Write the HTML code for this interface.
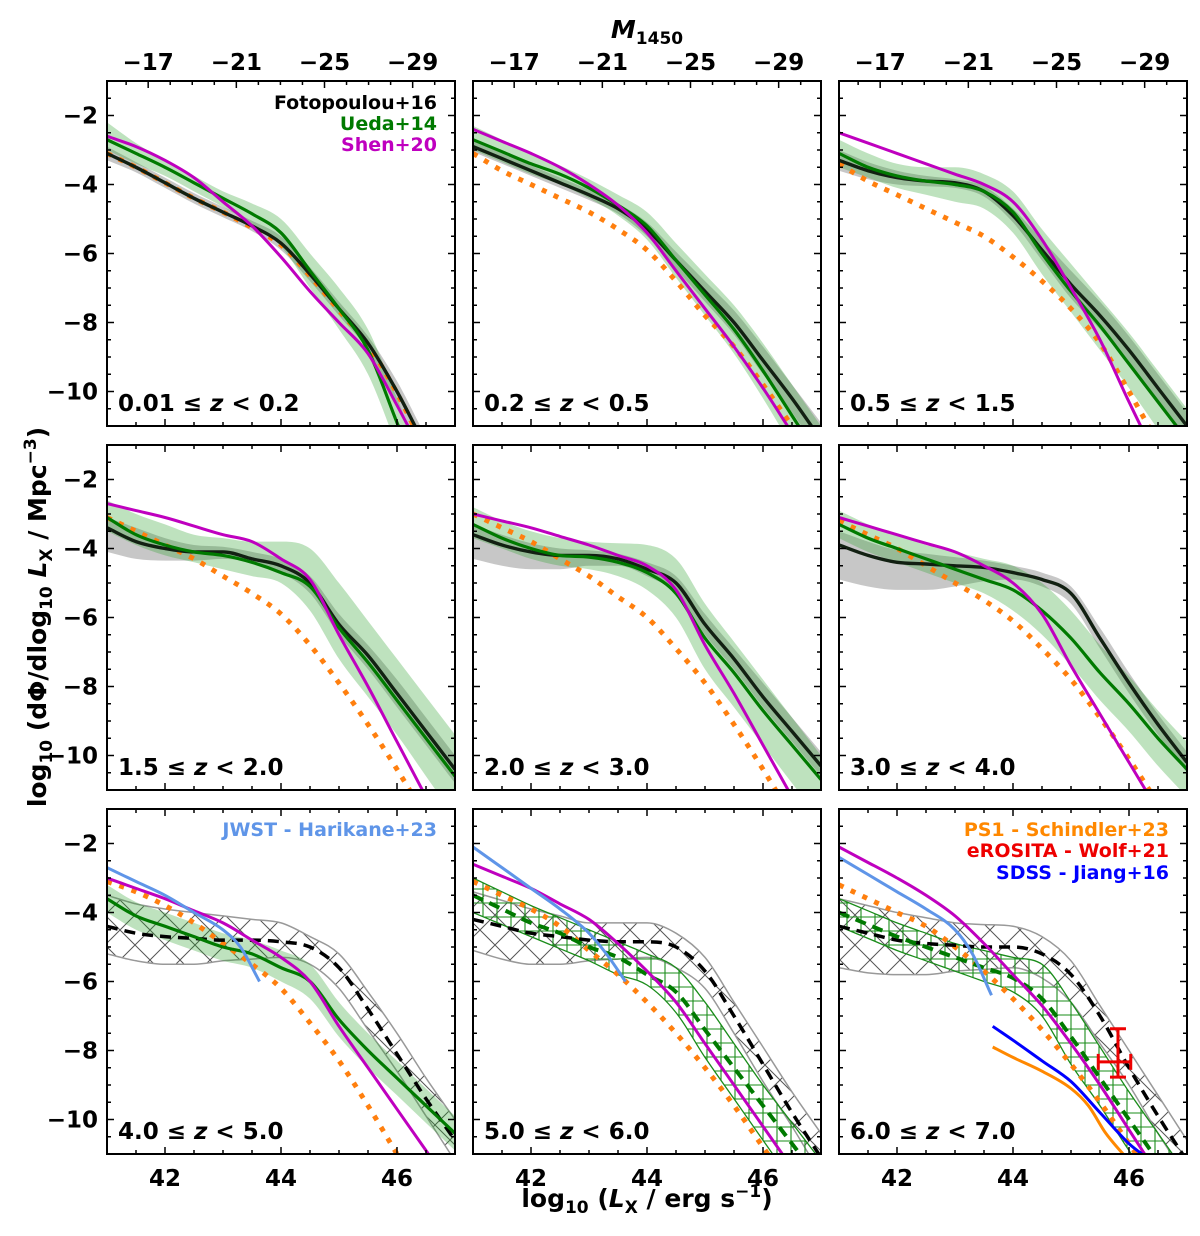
<!DOCTYPE html>
<html><head><meta charset="utf-8"><style>
html,body{margin:0;padding:0;background:#fff;}
svg{display:block;font-family:"DejaVu Sans","Liberation Sans",sans-serif;font-weight:bold;}
</style></head><body>
<svg id="fig" width="1200" height="1236" viewBox="0 0 1200 1236" xmlns="http://www.w3.org/2000/svg">
<defs>
<pattern id="hatchX" width="30" height="30" patternUnits="userSpaceOnUse">
<path d="M0,0 L30,30 M30,0 L0,30" stroke="#555" stroke-width="1"/>
</pattern>
<pattern id="hatchPlus" width="14" height="14" patternUnits="userSpaceOnUse">
<path d="M7,0 L7,14 M0,7 L14,7" stroke="#1a8c1a" stroke-width="1.1"/>
</pattern>
</defs>
<text x="647" y="38" font-size="25" text-anchor="middle"><tspan font-style="italic">M</tspan><tspan font-size="17" dy="6">1450</tspan></text>
<text x="647" y="1207" font-size="25" text-anchor="middle">log<tspan font-size="17" dy="6">10</tspan><tspan dy="-6"> (</tspan><tspan font-style="italic">L</tspan><tspan font-size="17" dy="6">X</tspan><tspan dy="-6"> / erg s</tspan><tspan font-size="17" dy="-10">−1</tspan><tspan dy="10">)</tspan></text>
<text transform="translate(46,617) rotate(-90)" font-size="25" text-anchor="middle">log<tspan font-size="17" dy="6">10</tspan><tspan dy="-6"> (dΦ/dlog</tspan><tspan font-size="17" dy="6">10</tspan><tspan dy="-6"> </tspan><tspan font-style="italic">L</tspan><tspan font-size="17" dy="6">X</tspan><tspan dy="-6"> / Mpc</tspan><tspan font-size="17" dy="-10">−3</tspan><tspan dy="10">)</tspan></text>
</svg>
<script>
// ---- data ----
const xs = [41,41.5,42,42.5,43,43.5,44,44.5,45,45.5,46,46.5,47];
const zLabels = ["0.01","0.2","0.2","0.5","0.5","1.5","1.5","2.0","2.0","3.0","3.0","4.0","4.0","5.0","5.0","6.0","6.0","7.0"];
const yTicks = [-10,-8,-6,-4,-2];
const xTicks = [42,44,46];
const magTicks = [-17,-21,-25,-29];

const p1_black=[-3.1,-3.5,-3.95,-4.4,-4.8,-5.2,-5.7,-6.6,-7.6,-8.6,-10.0,-11.6,-13];
const p1_green=[-2.7,-3.1,-3.5,-3.95,-4.4,-4.85,-5.4,-6.5,-7.6,-8.8,-10.9,-13,-15];
const p1_gHi=[-2.2,-2.8,-3.3,-3.75,-4.2,-4.55,-5.0,-6.0,-7.0,-8.2,-10.2,-12.2,-14];
const p1_gLo=[-3.0,-3.4,-3.75,-4.2,-4.65,-5.15,-5.8,-7.0,-8.2,-9.5,-11.6,-13.8,-16];
const p1_kHi=[-2.9,-3.35,-3.8,-4.25,-4.65,-5.05,-5.5,-6.4,-7.4,-8.4,-9.7,-11.3,-12.7];
const p1_kLo=[-3.3,-3.65,-4.1,-4.55,-4.95,-5.35,-5.9,-6.8,-7.8,-8.8,-10.3,-11.9,-13.3];
const p1_mag=[-2.6,-2.9,-3.3,-3.8,-4.5,-5.2,-6.1,-7.1,-8.0,-8.9,-10.4,-12,-13.6];
const p1_orange=[-3.1,-3.5,-3.95,-4.4,-4.8,-5.25,-5.75,-6.65,-7.65,-8.65,-10.05,-11.7,-13.1];

const p2_black=[-2.9,-3.25,-3.6,-3.95,-4.3,-4.7,-5.3,-6.2,-7.1,-8.0,-9.1,-10.2,-11.4];
const p2_green=[-2.7,-3.05,-3.4,-3.7,-4.1,-4.6,-5.2,-6.2,-7.2,-8.2,-9.4,-10.7,-12];
const p2_gHi=[-2.3,-2.7,-3.1,-3.45,-3.85,-4.3,-4.8,-5.7,-6.6,-7.5,-8.6,-9.8,-11];
const p2_gLo=[-3.0,-3.35,-3.7,-4.0,-4.4,-4.9,-5.6,-6.7,-7.8,-8.9,-10.2,-11.6,-13];
const p2_kHi=[-2.75,-3.1,-3.45,-3.8,-4.15,-4.55,-5.1,-5.95,-6.8,-7.65,-8.7,-9.8,-10.9];
const p2_kLo=[-3.05,-3.4,-3.75,-4.1,-4.45,-4.85,-5.5,-6.45,-7.4,-8.35,-9.5,-10.6,-11.9];
const p2_mag=[-2.4,-2.75,-3.1,-3.5,-4.0,-4.6,-5.4,-6.5,-7.6,-8.7,-9.9,-11.2,-12.5];
const p2_orange=[-3.1,-3.6,-4.0,-4.4,-4.8,-5.3,-5.9,-6.8,-7.8,-8.7,-9.8,-11.0,-12.2];

const p3_black=[-3.3,-3.6,-3.8,-3.9,-3.95,-4.2,-4.9,-5.9,-6.9,-7.8,-8.8,-9.9,-11.0];
const p3_green=[-3.1,-3.5,-3.75,-3.9,-4.0,-4.2,-4.8,-6.0,-7.1,-8.1,-9.2,-10.3,-11.4];
const p3_gHi=[-2.7,-3.1,-3.4,-3.5,-3.5,-3.7,-4.2,-5.3,-6.3,-7.3,-8.3,-9.4,-10.5];
const p3_gLo=[-3.5,-3.8,-4.1,-4.3,-4.5,-4.7,-5.4,-6.6,-7.7,-8.8,-9.9,-11.1,-12.3];
const p3_kHi=[-3.0,-3.35,-3.6,-3.75,-3.85,-4.05,-4.7,-5.6,-6.5,-7.4,-8.4,-9.5,-10.6];
const p3_kLo=[-3.6,-3.85,-4.0,-4.05,-4.1,-4.35,-5.1,-6.2,-7.3,-8.2,-9.2,-10.3,-11.4];
const p3_mag=[-2.5,-2.8,-3.1,-3.4,-3.7,-4.0,-4.5,-5.6,-7.0,-8.5,-10.3,-12,-13.5];
const p3_orange=[-3.4,-3.9,-4.3,-4.7,-5.1,-5.5,-6.1,-6.8,-7.6,-8.6,-10.0,-11.5,-13];

const p4_black=[-3.4,-3.8,-4.0,-4.1,-4.1,-4.3,-4.5,-5.0,-6.2,-7.1,-8.2,-9.3,-10.4];
const p4_green=[-3.1,-3.6,-3.9,-4.1,-4.2,-4.4,-4.7,-5.1,-6.3,-7.3,-8.4,-9.5,-10.6];
const p4_gHi=[-2.6,-3.0,-3.3,-3.6,-3.7,-3.8,-3.8,-4.0,-5.0,-6.1,-7.2,-8.3,-9.4];
const p4_gLo=[-3.5,-3.9,-4.2,-4.4,-4.6,-4.8,-5.0,-5.8,-7.2,-8.3,-9.4,-10.6,-11.8];
const p4_kHi=[-3.1,-3.4,-3.7,-3.9,-3.95,-4.1,-4.3,-4.8,-5.9,-6.8,-7.8,-8.9,-10.0];
const p4_kLo=[-4.1,-4.3,-4.35,-4.35,-4.3,-4.4,-4.7,-5.3,-6.5,-7.5,-8.6,-9.7,-10.8];
const p4_mag=[-2.7,-2.9,-3.1,-3.35,-3.6,-3.8,-4.3,-4.9,-6.5,-8.0,-9.6,-11.2,-12.8];
const p4_orange=[-3.1,-3.5,-3.9,-4.3,-4.8,-5.3,-5.9,-6.8,-7.9,-9.1,-10.4,-11.8,-13.2];

const p5_black=[-3.6,-3.9,-4.1,-4.2,-4.2,-4.3,-4.6,-5.0,-6.2,-7.2,-8.3,-9.3,-10.3];
const p5_green=[-3.3,-3.7,-4.0,-4.2,-4.25,-4.4,-4.7,-5.3,-6.6,-7.6,-8.7,-9.7,-10.7];
const p5_gHi=[-2.8,-3.2,-3.5,-3.7,-3.8,-3.85,-3.9,-4.3,-5.6,-6.7,-7.8,-8.9,-10.0];
const p5_gLo=[-3.7,-4.0,-4.3,-4.5,-4.6,-4.8,-5.2,-6.0,-7.5,-8.6,-9.7,-10.8,-11.9];
const p5_kHi=[-3.3,-3.6,-3.85,-4.0,-4.05,-4.15,-4.4,-4.8,-5.9,-6.9,-7.9,-8.9,-9.9];
const p5_kLo=[-4.3,-4.5,-4.6,-4.6,-4.5,-4.5,-4.8,-5.3,-6.5,-7.5,-8.6,-9.6,-10.6];
const p5_mag=[-3.0,-3.2,-3.4,-3.65,-3.9,-4.2,-4.5,-5.2,-6.8,-8.2,-9.7,-11.2,-12.7];
const p5_orange=[-3.0,-3.4,-3.8,-4.3,-4.8,-5.4,-6.0,-6.9,-7.9,-9.1,-10.4,-11.8,-13.2];

const p6_black=[-3.9,-4.2,-4.4,-4.45,-4.5,-4.55,-4.7,-4.9,-5.3,-6.6,-7.9,-9.1,-10.2];
const p6_green=[-3.3,-3.7,-4.0,-4.3,-4.6,-4.9,-5.2,-5.8,-6.6,-7.6,-8.5,-9.5,-10.4];
const p6_gHi=[-2.9,-3.3,-3.6,-3.9,-4.1,-4.3,-4.5,-5.0,-5.8,-6.8,-7.7,-8.7,-9.6];
const p6_gLo=[-3.7,-4.1,-4.4,-4.7,-5.0,-5.3,-5.8,-6.5,-7.4,-8.4,-9.3,-10.3,-11.2];
const p6_kHi=[-3.5,-3.8,-4.05,-4.15,-4.25,-4.35,-4.5,-4.7,-5.1,-6.3,-7.6,-8.8,-9.9];
const p6_kLo=[-4.9,-5.1,-5.2,-5.2,-5.1,-4.95,-4.9,-5.1,-5.6,-6.9,-8.2,-9.4,-10.5];
const p6_mag=[-3.1,-3.35,-3.6,-3.85,-4.1,-4.5,-5.0,-5.9,-7.4,-8.8,-10.2,-11.6,-13];
const p6_orange=[-3.2,-3.6,-4.0,-4.5,-5.0,-5.5,-6.1,-6.9,-7.8,-8.9,-10.1,-11.4,-12.8];

const p7_black=[-4.4,-4.6,-4.7,-4.75,-4.8,-4.8,-4.85,-5.0,-5.6,-6.8,-8.1,-9.4,-10.6];
const p7_kHi=[-3.5,-3.75,-3.9,-4.0,-4.1,-4.2,-4.3,-4.7,-5.2,-6.3,-7.5,-8.8,-10.0];
const p7_kLo=[-5.2,-5.4,-5.5,-5.5,-5.4,-5.35,-5.3,-5.5,-6.2,-7.4,-8.6,-9.9,-11.2];
const p7_green=[-3.6,-4.1,-4.4,-4.7,-5.0,-5.2,-5.6,-6.0,-7.1,-8.0,-8.8,-9.6,-10.4];
const p7_gHi=[-3.2,-3.7,-4.0,-4.3,-4.6,-4.8,-5.1,-5.5,-6.6,-7.5,-8.3,-9.1,-9.9];
const p7_gLo=[-4.0,-4.5,-4.8,-5.1,-5.4,-5.6,-6.0,-6.5,-7.6,-8.5,-9.3,-10.1,-10.9];
const p7_mag=[-3.0,-3.3,-3.6,-3.95,-4.3,-4.8,-5.3,-6.0,-7.3,-8.5,-9.7,-10.9,-12.1];
const p7_orange=[-3.1,-3.4,-3.8,-4.3,-4.9,-5.5,-6.2,-7.2,-8.3,-9.6,-11.0,-12.4,-13.8];

const p8_black=[-4.2,-4.4,-4.6,-4.7,-4.8,-4.85,-4.85,-5.0,-5.7,-7.0,-8.4,-9.8,-11.1];
const p8_kHi=[-3.4,-3.65,-3.9,-4.1,-4.3,-4.3,-4.3,-4.6,-5.3,-6.6,-7.9,-9.2,-10.4];
const p8_kLo=[-5.1,-5.35,-5.5,-5.5,-5.4,-5.35,-5.3,-5.6,-6.2,-7.5,-8.9,-10.2,-11.6];
const p8_green=[-3.5,-3.9,-4.3,-4.6,-5.0,-5.3,-5.8,-6.3,-7.4,-8.5,-9.6,-10.7,-11.8];
const p8_gHi=[-3.0,-3.4,-3.8,-4.15,-4.5,-4.85,-5.2,-5.6,-6.6,-7.8,-9.0,-10.1,-11.2];
const p8_gLo=[-4.0,-4.35,-4.7,-5.05,-5.4,-5.8,-6.1,-6.9,-8.2,-9.4,-10.6,-11.8,-13];
const p8_mag=[-2.6,-2.95,-3.3,-3.75,-4.2,-4.9,-5.7,-6.6,-7.8,-9.0,-10.2,-11.4,-12.6];
const p8_orange=[-3.1,-3.5,-3.9,-4.4,-5.1,-5.8,-6.6,-7.5,-8.5,-9.6,-10.8,-12,-13.2];

const p9_black=[-4.4,-4.6,-4.8,-4.9,-4.95,-5.0,-5.0,-5.2,-5.8,-7.0,-8.5,-9.9,-11.2];
const p9_kHi=[-3.6,-3.8,-4.0,-4.15,-4.3,-4.35,-4.4,-4.7,-5.4,-6.7,-8.0,-9.3,-10.6];
const p9_kLo=[-5.6,-5.75,-5.8,-5.8,-5.7,-5.65,-5.6,-5.9,-6.6,-7.8,-9.0,-10.4,-11.7];
const p9_green=[-4.0,-4.35,-4.7,-5.0,-5.3,-5.6,-5.9,-6.5,-7.6,-8.8,-10.0,-11.2,-12.4];
const p9_gHi=[-3.6,-3.95,-4.3,-4.6,-4.9,-5.1,-5.3,-5.5,-6.6,-7.9,-9.2,-10.4,-11.6];
const p9_gLo=[-4.4,-4.75,-5.1,-5.4,-5.7,-6.0,-6.3,-7.0,-8.4,-9.6,-10.9,-12.1,-13.3];
const p9_mag=[-2.1,-2.55,-3.0,-3.5,-4.1,-4.9,-5.8,-6.7,-7.8,-9.0,-10.3,-11.6,-12.9];
const p9_orange=[-3.2,-3.6,-4.0,-4.4,-5.0,-5.7,-6.5,-7.4,-8.4,-9.5,-10.7,-11.9,-13.1];

const jwstX=[41,41.5,42,42.5,43,43.3,43.63];
const p7_jwst=[-2.7,-3.1,-3.5,-4.0,-4.5,-5.0,-6.0];
const p8_jwst=[-2.1,-2.7,-3.3,-3.9,-4.6,-5.2,-6.0];
const p9_jwst=[-2.4,-2.9,-3.4,-3.9,-4.5,-5.2,-6.4];
const sdssX=[43.65,44,44.5,45,45.5,46,46.3];
const sdssY=[-7.3,-7.7,-8.3,-8.9,-9.8,-10.7,-11.1];
const ps1X=[43.65,44,44.5,45,45.3,45.6,45.95];
const ps1Y=[-7.9,-8.2,-8.6,-9.1,-9.6,-10.4,-11.1];
const erositaPt=[45.81,-8.33];
const erositaXErr=[45.47,46.03];
const erositaYErr=[-7.37,-8.77];

const panels=[
 {k:p1_black,kHi:p1_kHi,kLo:p1_kLo,g:p1_green,gHi:p1_gHi,gLo:p1_gLo,m:p1_mag,o:p1_orange},
 {k:p2_black,kHi:p2_kHi,kLo:p2_kLo,g:p2_green,gHi:p2_gHi,gLo:p2_gLo,m:p2_mag,o:p2_orange},
 {k:p3_black,kHi:p3_kHi,kLo:p3_kLo,g:p3_green,gHi:p3_gHi,gLo:p3_gLo,m:p3_mag,o:p3_orange},
 {k:p4_black,kHi:p4_kHi,kLo:p4_kLo,g:p4_green,gHi:p4_gHi,gLo:p4_gLo,m:p4_mag,o:p4_orange},
 {k:p5_black,kHi:p5_kHi,kLo:p5_kLo,g:p5_green,gHi:p5_gHi,gLo:p5_gLo,m:p5_mag,o:p5_orange},
 {k:p6_black,kHi:p6_kHi,kLo:p6_kLo,g:p6_green,gHi:p6_gHi,gLo:p6_gLo,m:p6_mag,o:p6_orange},
 {k:p7_black,kHi:p7_kHi,kLo:p7_kLo,g:p7_green,gHi:p7_gHi,gLo:p7_gLo,m:p7_mag,o:p7_orange,j:p7_jwst,mode:1},
 {k:p8_black,kHi:p8_kHi,kLo:p8_kLo,g:p8_green,gHi:p8_gHi,gLo:p8_gLo,m:p8_mag,o:p8_orange,j:p8_jwst,mode:2},
 {k:p9_black,kHi:p9_kHi,kLo:p9_kLo,g:p9_green,gHi:p9_gHi,gLo:p9_gLo,m:p9_mag,o:p9_orange,j:p9_jwst,mode:2,extra:true}
];

// ---- layout ----
const NS="http://www.w3.org/2000/svg";
const svg=document.getElementById('fig');
const lefts=[107,473,839], tops=[81,445,809], W=348, H=345;
const XMIN=41,XMAX=47,YMIN=-11,YMAX=-1;
function mk(tag,attrs,parent){const e=document.createElementNS(NS,tag);for(const a in attrs)e.setAttribute(a,attrs[a]);(parent||svg).appendChild(e);return e;}
function magToL(M){return 41.71+(-17-M)*0.38;}

function pathD(px,py,cont){
  const n=px.length;const d=[],m=new Array(n);
  for(let i=0;i<n-1;i++)d.push((py[i+1]-py[i])/(px[i+1]-px[i]));
  m[0]=d[0];m[n-1]=d[n-2];
  for(let i=1;i<n-1;i++){m[i]=(d[i-1]*d[i]<=0)?0:(d[i-1]+d[i])/2;}
  for(let i=0;i<n-1;i++){
    if(d[i]===0){m[i]=0;m[i+1]=0;continue;}
    const a=m[i]/d[i],b=m[i+1]/d[i],s=a*a+b*b;
    if(s>9){const t=3/Math.sqrt(s);m[i]=t*a*d[i];m[i+1]=t*b*d[i];}
  }
  let s=(cont?"L":"M")+px[0].toFixed(1)+","+py[0].toFixed(1);
  for(let i=0;i<n-1;i++){
    const h=(px[i+1]-px[i])/3;
    s+=" C"+(px[i]+h).toFixed(1)+","+(py[i]+m[i]*h).toFixed(1)+" "+(px[i+1]-h).toFixed(1)+","+(py[i+1]-m[i+1]*h).toFixed(1)+" "+px[i+1].toFixed(1)+","+py[i+1].toFixed(1);
  }
  return s;
}
function pathRev(px,py){
  const fx=px.map(v=>-v).reverse(),fy=py.slice().reverse();
  const s=pathD(fx,fy,true);
  return s.replace(/(-?\d+\.?\d*),(-?\d+\.?\d*)/g,(a,x,y)=>(-parseFloat(x)).toFixed(1)+","+y);
}

panels.forEach((p,idx)=>{
  const r=Math.floor(idx/3),c=idx%3;
  const L=lefts[c],T=tops[r];
  const sx=v=>L+(v-XMIN)/(XMAX-XMIN)*W;
  const sy=v=>T+(YMAX-v)/(YMAX-YMIN)*H;
  const g=mk('g',{});
  
  
  const cp=mk('clipPath',{id:'clip'+idx},g);
  mk('rect',{x:L,y:T,width:W,height:H},cp);
  const plot=mk('g',{'clip-path':'url(#clip'+idx+')'},g);
  const line=(X,Y)=>pathD(X.map(sx),Y.map(sy));
  const band=(X,hi,lo)=>pathD(X.map(sx),hi.map(sy))+" "+pathRev(X.map(sx),lo.map(sy))+" Z";
  const mode=p.mode||0;
  const kb=mk('path',{d:band(xs,p.kHi,p.kLo),fill:mode?'url(#hatchX)':'rgba(0,0,0,0.22)',stroke:mode?'#999':'none','stroke-width':1.5},plot);
  
  
  const gb=mk('path',{d:band(xs,p.gHi,p.gLo),fill:mode===2?'url(#hatchPlus)':'rgba(40,160,40,0.3)',stroke:mode===2?'#1a8c1a':'none','stroke-width':1.3},plot);
  
  
  const o=mk('path',{d:line(xs,p.o),fill:'none',stroke:'#ff7f0e','stroke-width':5,'stroke-dasharray':'5 8'},plot);
  
  
  const k=mk('path',{d:line(xs,p.k),fill:'none',stroke:mode?'#000':'#122012','stroke-width':mode?3.5:3.4,'stroke-dasharray':mode?'11 7':'none'},plot);
  
  
  const gl=mk('path',{d:line(xs,p.g),fill:'none',stroke:'#007a00','stroke-width':mode===2?4:3.2,'stroke-dasharray':mode===2?'11 7':'none'},plot);
  
  
  const m=mk('path',{d:line(xs,p.m),fill:'none',stroke:'#bf00bf','stroke-width':3},plot);
  
  
  if(p.j){
    const j=mk('path',{d:line(jwstX,p.j),fill:'none',stroke:'#5f95e8','stroke-width':3},plot);
    
    
  }
  if(p.extra){
    const s=mk('path',{d:line(sdssX,sdssY),fill:'none',stroke:'#0000ff','stroke-width':3},plot);
    
    
    const q=mk('path',{d:line(ps1X,ps1Y),fill:'none',stroke:'#ff8800','stroke-width':3},plot);
    
    
    const eg=mk('g',{stroke:'#ee0000','stroke-width':3,fill:'none'},plot);
    
    
    const cx=sx(erositaPt[0]),cy=sy(erositaPt[1]);
    mk('line',{x1:sx(erositaXErr[0]),x2:sx(erositaXErr[1]),y1:cy,y2:cy},eg);
    mk('line',{x1:cx,x2:cx,y1:sy(erositaYErr[0]),y2:sy(erositaYErr[1])},eg);
    [erositaYErr[0],erositaYErr[1]].forEach(v=>mk('line',{x1:cx-8,x2:cx+8,y1:sy(v),y2:sy(v)},eg));
    [erositaXErr[0],erositaXErr[1]].forEach(v=>mk('line',{x1:sx(v),x2:sx(v),y1:cy-8,y2:cy+8},eg));
  }
  const fr=mk('rect',{x:L,y:T,width:W,height:H,fill:'none',stroke:'#000','stroke-width':2},g);
  
  
  const tg=mk('g',{stroke:'#000','stroke-width':1.5},g);
  for(let v=-11;v<=-1.001;v+=0.5){
    const major=Math.abs(v-Math.round(v))<1e-6 && Math.round(v)%2===0;
    const len=major?7:4;const y=sy(v);
    mk('line',{x1:L,x2:L+len,y1:y,y2:y},tg);
    mk('line',{x1:L+W-len,x2:L+W,y1:y,y2:y},tg);
  }
  for(let v=41.5;v<47;v+=0.5){
    const major=Math.abs(v-Math.round(v))<1e-6 && Math.round(v)%2===0;
    const len=major?7:4;const x=sx(v);
    mk('line',{x1:x,x2:x,y1:T+H,y2:T+H-len},tg);
    if(r>0) mk('line',{x1:x,x2:x,y1:T,y2:T+len},tg);
  }
  if(r===0){
    for(let M=-16;M>=-30;M--){
      const major=magTicks.includes(M);const x=sx(magToL(M));
      mk('line',{x1:x,x2:x,y1:T,y2:T+(major?7:4)},tg);
    }
    magTicks.forEach(M=>{
      const t=mk('text',{x:sx(magToL(M)),y:T-11,'font-size':23,'text-anchor':'middle'},g);
      t.textContent='−'+Math.abs(M);
      
      
    });
  }
  if(c===0){
    yTicks.forEach(v=>{
      const t=mk('text',{x:L-9,y:sy(v)+8,'font-size':23,'text-anchor':'end'},g);
      t.textContent='−'+Math.abs(v);
      
      
    });
  }
  if(r===2){
    xTicks.forEach(v=>{
      const t=mk('text',{x:sx(v),y:T+H+32,'font-size':23,'text-anchor':'middle'},g);
      t.textContent=String(v);
      
      
    });
  }
  const zl=mk('text',{x:L+11,y:T+330,'font-size':23},g);
  
  
  zl.innerHTML=zLabels[idx*2]+' ≤ <tspan font-style="italic">z</tspan> &lt; '+zLabels[idx*2+1];
});

function legend(x,y,text,color,name){
  const t=mk('text',{x:x,y:y,'font-size':19,'text-anchor':'end',fill:color});
  t.textContent=text;
  
  
}
legend(437,109,'Fotopoulou+16','#000','legend-fotopoulou');
legend(437,130,'Ueda+14','#007a00','legend-ueda');
legend(437,151,'Shen+20','#bf00bf','legend-shen');
legend(437,836,'JWST - Harikane+23','#5f95e8','legend-jwst');
legend(1169,836,'PS1 - Schindler+23','#ff8800','legend-ps1');
legend(1169,857,'eROSITA - Wolf+21','#ee0000','legend-erosita');
legend(1169,879,'SDSS - Jiang+16','#0000ff','legend-sdss');
</script>
</body></html>
